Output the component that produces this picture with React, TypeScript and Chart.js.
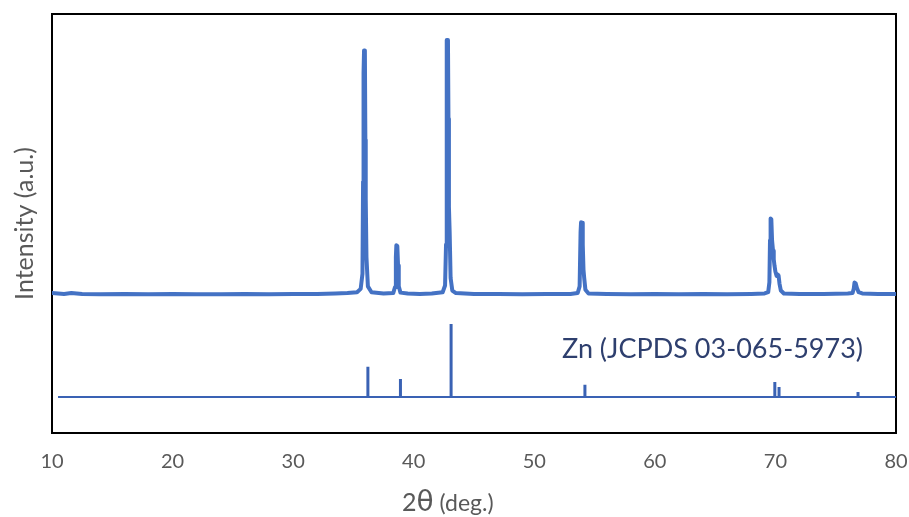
import React, { useEffect, useRef } from "react";
import { Chart, registerables } from "chart.js";

Chart.register(...registerables);

// Measured XRD pattern (2θ in degrees, intensity in arbitrary units)
const measuredTheta = [
  10.0, 11.0, 11.6, 12.5, 14.0, 16.0, 18.0, 20.0, 22.0, 24.0, 26.0, 28.0, 30.0, 32.0, 33.5, 34.5, 35.3, 35.6, 35.75, 35.8,
  35.84, 35.88, 35.95, 35.99, 36.02, 36.08, 36.2, 36.5, 37.5, 38.3, 38.45, 38.52, 38.56, 38.64, 38.7, 38.76, 38.9, 39.5,
  40.5, 41.5, 42.4, 42.6, 42.68, 42.72, 42.76, 42.84, 42.88, 42.92, 42.98, 43.06, 43.2, 43.5, 45.0, 47.0, 49.0, 51.0,
  53.0, 53.6, 53.76, 53.84, 53.88, 53.96, 54.02, 54.08, 54.14, 54.24, 54.5, 56.0, 58.0, 60.0, 62.0, 64.0, 66.0, 68.0,
  69.1, 69.4, 69.5, 69.55, 69.6, 69.66, 69.72, 69.8, 69.86, 69.92, 70.0, 70.1, 70.2, 70.26, 70.34, 70.45, 70.7, 72.0,
  74.0, 76.0, 76.4, 76.5, 76.56, 76.66, 76.76, 76.9, 77.2, 78.5, 80.0,
];
const measuredIntensity = [
  33.4, 33.2, 33.4, 33.2, 33.1, 33.2, 33.1, 33.2, 33.1, 33.1, 33.2, 33.1, 33.2, 33.2, 33.3, 33.4, 33.6, 34.4, 38.0, 60.0,
  86.0, 91.3, 91.0, 70.0, 56.0, 42.0, 35.0, 33.6, 33.3, 33.4, 34.8, 42.0, 44.8, 44.6, 40.0, 35.0, 33.5, 33.3,
  33.2, 33.3, 33.6, 35.2, 45.0, 82.0, 93.8, 93.8, 75.0, 54.0, 48.0, 37.0, 34.0, 33.4, 33.2, 33.2, 33.1, 33.2,
  33.2, 33.4, 35.0, 48.0, 50.3, 50.2, 45.0, 39.0, 37.0, 34.2, 33.3, 33.2, 33.1, 33.2, 33.1, 33.2, 33.1, 33.2,
  33.3, 33.6, 36.0, 46.0, 51.2, 51.0, 46.0, 43.5, 41.5, 40.0, 38.5, 37.5, 37.8, 37.6, 35.6, 34.0, 33.3, 33.2,
  33.2, 33.3, 33.4, 34.5, 35.9, 35.7, 34.6, 33.6, 33.3, 33.2, 33.2,
];

// Reference pattern: Zn (JCPDS 03-065-5973)
const refTheta = [36.2, 38.9, 43.1, 54.2, 69.95, 70.3, 76.85];
const refIntensity = [15.8, 12.9, 26.0, 11.5, 12.2, 11.0, 9.8];
const refBaseline = 8.6;
const refStart = 10.5;
const refEnd = 80;

const xTicks = [10, 20, 30, 40, 50, 60, 70, 80];
const refLabel = "Zn (JCPDS 03-065-5973)";
const yTitle = "Intensity (a.u.)";

const FONT = "Lato, 'Open Sans', sans-serif";

export default function App() {
  const canvasRef = useRef<HTMLCanvasElement | null>(null);

  useEffect(() => {
    const canvas = canvasRef.current;
    if (!canvas) return;

    const measured = measuredTheta.map((x, i) => ({ x, y: measuredIntensity[i] }));
    const baseLine = [
      { x: refStart, y: refBaseline },
      { x: refEnd, y: refBaseline },
    ];
    const sticks: { x: number; y: number | null }[] = [];
    refTheta.forEach((x, i) => {
      sticks.push({ x, y: refBaseline });
      sticks.push({ x, y: refIntensity[i] });
      sticks.push({ x, y: null });
    });

    const framePlugin = {
      id: "frame",
      beforeDatasetsDraw(chart: any) {
        const { ctx, chartArea } = chart;
        ctx.save();
        ctx.strokeStyle = "#000000";
        ctx.lineWidth = 2;
        ctx.strokeRect(chartArea.left, chartArea.top, chartArea.right - chartArea.left, chartArea.bottom - chartArea.top);
        ctx.restore();
      },
      afterDraw(chart: any) {
        const { ctx } = chart;
        ctx.save();
        // reference label
        ctx.fillStyle = "#2E3F6E";
        ctx.font = `27px ${FONT}`;
        ctx.textBaseline = "alphabetic";
        ctx.textAlign = "left";
        ctx.fillText(refLabel, 562, 358);
        // x-axis title: 2θ (deg.)
        ctx.fillStyle = "#595959";
        ctx.font = `25px ${FONT}`;
        let x = 402;
        const base = 511;
        ctx.fillText("2", x, base);
        x += ctx.measureText("2").width;
        ctx.font = `28px 'DejaVu Sans', sans-serif`;
        ctx.fillText("θ", x, base);
        x += ctx.measureText("θ").width;
        ctx.font = `23px ${FONT}`;
        ctx.fillText(" (deg.)", x, base);
        ctx.restore();
      },
    };

    const chart = new Chart(canvas, {
      type: "scatter",
      data: {
        datasets: [
          {
            label: "measured",
            data: measured,
            showLine: true,
            borderColor: "#4472C4",
            backgroundColor: "#4472C4",
            borderWidth: 4,
            pointRadius: 0,
            tension: 0,
            borderJoinStyle: "round",
            borderCapStyle: "round",
          },
          {
            label: "reference baseline",
            data: baseLine,
            showLine: true,
            borderColor: "#3A62B4",
            borderWidth: 2,
            pointRadius: 0,
          },
          {
            label: "reference",
            data: sticks as any,
            showLine: true,
            spanGaps: false,
            borderColor: "#3A62B4",
            borderWidth: 3,
            pointRadius: 0,
          },
        ],
      },
      options: {
        animation: false,
        responsive: false,
        maintainAspectRatio: false,
        devicePixelRatio: 1,
        layout: { padding: { top: 14, right: 13, left: 0, bottom: 0 } },
        plugins: {
          legend: { display: false },
          tooltip: { enabled: false },
        },
        scales: {
          x: {
            type: "linear",
            min: 10,
            max: 80,
            afterBuildTicks(scale: any) {
              scale.ticks = xTicks.map((v) => ({ value: v }));
            },
            afterFit(scale: any) {
              scale.height = 84;
              scale.paddingLeft = 0;
              scale.paddingRight = 0;
            },
            grid: { display: false, drawTicks: false },
            border: { display: true, color: "#000000", width: 2 },
            ticks: {
              padding: 17,
              color: "#595959",
              font: { family: FONT, size: 20 },
              maxRotation: 0,
            },
          },
          y: {
            type: "linear",
            min: 0,
            max: 100,
            afterFit(scale: any) {
              scale.width = 52;
              scale.paddingTop = 0;
              scale.paddingBottom = 0;
            },
            grid: { display: false, drawTicks: false },
            border: { display: true, color: "#000000", width: 2 },
            ticks: { display: false },
            title: {
              display: true,
              text: yTitle,
              color: "#595959",
              font: { family: FONT, size: 25 },
              padding: { top: 10, bottom: 0 },
            },
          },
        },
      },
      plugins: [framePlugin],
    });

    return () => chart.destroy();
  }, []);

  return (
    <div style={{ position: "fixed", left: 0, top: 0, width: 909, height: 517 }}>
      <canvas ref={canvasRef} width={909} height={517} style={{ display: "block" }} />
    </div>
  );
}
